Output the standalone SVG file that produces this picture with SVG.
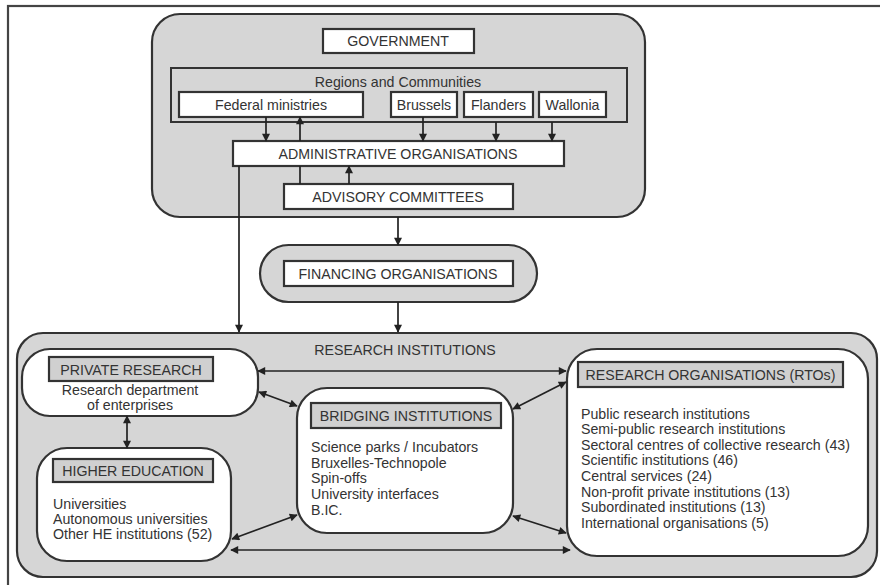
<svg xmlns="http://www.w3.org/2000/svg" width="880" height="585" viewBox="0 0 880 585">
  <style>
    .panel { fill: #d6d6d6; stroke: #333; stroke-width: 2.2; }
    .box { fill: #ffffff; stroke: #333; stroke-width: 2.2; }
    .tag { fill: #d0d0d0; stroke: #333; stroke-width: 2.2; }
    .frame { fill: #d6d6d6; stroke: #333; stroke-width: 2; }
    text { font-family: "Liberation Sans", Arial, sans-serif; font-size: 14.2px; fill: #333; }
    .c { text-anchor: middle; }
    .cn { fill: none; stroke: #222; stroke-width: 1.7; }
  </style>
  <defs>
    <marker id="ah" viewBox="0 0 10 10" refX="9" refY="5" markerWidth="10" markerHeight="8" markerUnits="userSpaceOnUse" orient="auto-start-reverse">
      <path d="M0,0 L10,5 L0,10 Z" fill="#222"/>
    </marker>
  </defs>

  <rect x="8" y="6" width="900" height="600" fill="#fff" stroke="#444" stroke-width="2.2"/>

  <!-- Government panel -->
  <g id="government">
    <rect class="panel" x="152" y="14" width="493" height="203" rx="28"/>
    <rect class="box" x="323" y="29" width="151" height="24"/>
    <text class="c" x="398" y="46">GOVERNMENT</text>
  </g>
  <g id="regions">
    <rect class="frame" x="171" y="68" width="456" height="54"/>
    <text class="c" x="398" y="87">Regions and Communities</text>
  </g>
  <g id="federal">
    <rect class="box" x="179" y="92" width="184" height="25"/>
    <text class="c" x="271" y="109.5">Federal ministries</text>
  </g>
  <g id="brussels">
    <rect class="box" x="391" y="92" width="66" height="25"/>
    <text class="c" x="424" y="109.5">Brussels</text>
  </g>
  <g id="flanders">
    <rect class="box" x="464" y="92" width="69" height="25"/>
    <text class="c" x="498.5" y="109.5">Flanders</text>
  </g>
  <g id="wallonia">
    <rect class="box" x="539" y="92" width="67" height="25"/>
    <text class="c" x="572.5" y="109.5">Wallonia</text>
  </g>
  <g id="administrative">
    <rect class="box" x="233" y="141" width="331" height="25"/>
    <text class="c" x="398" y="158.5">ADMINISTRATIVE ORGANISATIONS</text>
  </g>
  <g id="advisory">
    <rect class="box" x="284" y="184" width="229" height="25"/>
    <text class="c" x="398" y="201.5">ADVISORY COMMITTEES</text>
  </g>

  <!-- Financing -->
  <g id="financing">
    <rect class="panel" x="260" y="245" width="277" height="57" rx="28.5"/>
    <rect class="box" x="284" y="261" width="229" height="25"/>
    <text class="c" x="398" y="278.5">FINANCING ORGANISATIONS</text>
  </g>

  <!-- Research institutions -->
  <g id="research">
    <rect class="panel" x="17" y="333" width="860" height="244" rx="26"/>
    <text class="c" x="405" y="355">RESEARCH INSTITUTIONS</text>
  </g>
  <g id="private">
    <rect class="box" x="22" y="349" width="236" height="67" rx="28"/>
    <rect class="tag" x="49" y="357" width="164" height="24"/>
    <text class="c" x="131" y="374.5">PRIVATE RESEARCH</text>
    <text class="c" x="130" y="395">Research department</text>
    <text class="c" x="130" y="410">of enterprises</text>
  </g>
  <g id="higher-education">
    <rect class="box" x="37" y="448" width="194" height="113" rx="30"/>
    <rect class="tag" x="53" y="459" width="160" height="23"/>
    <text class="c" x="133" y="476">HIGHER EDUCATION</text>
    <text x="53" y="509">Universities</text>
    <text x="53" y="524">Autonomous universities</text>
    <text x="53" y="539">Other HE institutions (52)</text>
  </g>
  <g id="bridging">
    <rect class="box" x="297" y="388" width="216" height="145" rx="30"/>
    <rect class="tag" x="311" y="403" width="190" height="25"/>
    <text class="c" x="406" y="420.5">BRIDGING INSTITUTIONS</text>
    <text x="311" y="452">Science parks / Incubators</text>
    <text x="311" y="468">Bruxelles-Technopole</text>
    <text x="311" y="483">Spin-offs</text>
    <text x="311" y="499">University interfaces</text>
    <text x="311" y="515">B.IC.</text>
  </g>
  <g id="rtos">
    <rect class="box" x="567" y="349" width="301" height="207" rx="30"/>
    <rect class="tag" x="578" y="362" width="265" height="25"/>
    <text class="c" x="710.5" y="379.5">RESEARCH ORGANISATIONS (RTOs)</text>
    <text x="581" y="419">Public research institutions</text>
    <text x="581" y="434">Semi-public research institutions</text>
    <text x="581" y="450">Sectoral centres of collective research (43)</text>
    <text x="581" y="465">Scientific institutions (46)</text>
    <text x="581" y="481">Central services (24)</text>
    <text x="581" y="497">Non-profit private institutions (13)</text>
    <text x="581" y="512">Subordinated institutions (13)</text>
    <text x="581" y="528">International organisations (5)</text>
  </g>

  <!-- Connectors -->
  <g id="connectors">
    <line class="cn" x1="266" y1="117" x2="266" y2="141" marker-end="url(#ah)"/>
    <line class="cn" x1="300" y1="141" x2="300" y2="117" marker-end="url(#ah)"/>
    <line class="cn" x1="423" y1="117" x2="423" y2="141" marker-end="url(#ah)"/>
    <line class="cn" x1="496" y1="122" x2="496" y2="141" marker-end="url(#ah)"/>
    <line class="cn" x1="552" y1="122" x2="552" y2="141" marker-end="url(#ah)"/>
    <line class="cn" x1="300" y1="184" x2="300" y2="166"/>
    <line class="cn" x1="349" y1="184" x2="349" y2="166" marker-end="url(#ah)"/>
    <line class="cn" x1="239" y1="166" x2="239" y2="332" marker-end="url(#ah)"/>
    <line class="cn" x1="398" y1="217" x2="398" y2="245" marker-end="url(#ah)"/>
    <line class="cn" x1="398" y1="302" x2="398" y2="332" marker-end="url(#ah)"/>

    <line class="cn" x1="258" y1="371" x2="566" y2="371" marker-start="url(#ah)" marker-end="url(#ah)"/>
    <line class="cn" x1="259" y1="392" x2="297" y2="406" marker-start="url(#ah)" marker-end="url(#ah)"/>
    <line class="cn" x1="513" y1="409" x2="566" y2="382" marker-start="url(#ah)" marker-end="url(#ah)"/>
    <line class="cn" x1="127" y1="416" x2="127" y2="448" marker-start="url(#ah)" marker-end="url(#ah)"/>
    <line class="cn" x1="232" y1="539" x2="297" y2="515" marker-start="url(#ah)" marker-end="url(#ah)"/>
    <line class="cn" x1="513" y1="516" x2="566" y2="533" marker-start="url(#ah)" marker-end="url(#ah)"/>
    <line class="cn" x1="231" y1="550" x2="570" y2="550" marker-start="url(#ah)" marker-end="url(#ah)"/>
  </g>
</svg>
